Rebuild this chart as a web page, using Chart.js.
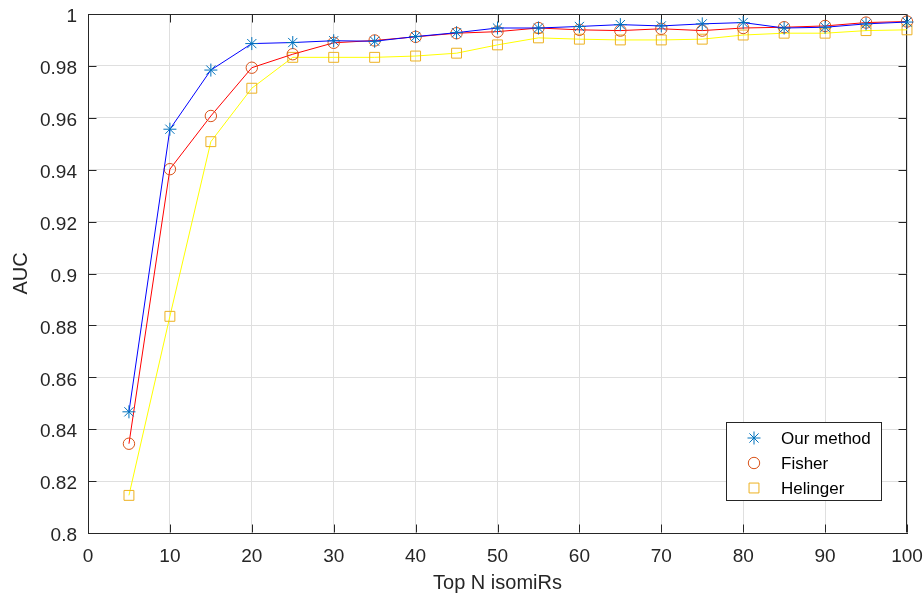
<!DOCTYPE html>
<html>
<head>
<meta charset="utf-8">
<title>AUC vs Top N isomiRs</title>
<script src="https://cdn.jsdelivr.net/npm/chart.js@4/dist/chart.umd.min.js"></script>
<style>
    html, body { margin: 0; padding: 0; background: #ffffff; }
    #wrap { width: 924px; height: 596px; }
</style>
</head>
<body>
<div id="wrap"><canvas id="auc-chart" width="924" height="596"></canvas></div>
<script>
// Data
const topN = [5, 10, 15, 20, 25, 30, 35, 40, 45, 50, 55, 60, 65, 70, 75, 80, 85, 90, 95, 100];
const ourMethod = [0.8467, 0.9556, 0.9784, 0.9886, 0.9890, 0.9897, 0.9895, 0.9913, 0.9928, 0.9946,
    0.9946, 0.9952, 0.9959, 0.9954, 0.9962, 0.9967, 0.9946, 0.9949, 0.9962, 0.9969];
const fisher = [0.8344, 0.9402, 0.9607, 0.9793, 0.9845, 0.9889, 0.9898, 0.9912, 0.9926, 0.9932,
    0.9946, 0.9939, 0.9936, 0.9943, 0.9936, 0.9946, 0.9949, 0.9954, 0.9967, 0.9971];
const helinger = [0.8145, 0.8835, 0.9508, 0.9714, 0.9833, 0.9833, 0.9833, 0.9838, 0.9849, 0.9881,
    0.9908, 0.9903, 0.9900, 0.9900, 0.9903, 0.9919, 0.9926, 0.9926, 0.9936, 0.9939];
const xTicks = { min: 0, max: 100, step: 10 };
const yTicks = { min: 0.8, max: 1, step: 0.02 };

const FONT = '"Liberation Sans", Arial, Helvetica, sans-serif';
const AXIS_COLOR = '#262626';
const GRID_COLOR = '#dfdfdf';
const TICK_LEN = 8;

function toPoints(values) {
    return values.map((v, i) => ({ x: topN[i], y: v }));
}

function makeSeries(label, values, lineColor, markerColor, style, radius) {
    return {
        label: label,
        data: toPoints(values),
        borderColor: lineColor,
        borderWidth: 1,
        backgroundColor: 'rgba(0,0,0,0)',
        pointStyle: style,
        pointRadius: radius,
        pointBorderColor: markerColor,
        pointBackgroundColor: 'rgba(0,0,0,0)',
        pointBorderWidth: 1,
        tension: 0,
        fill: false,
        clip: false
    };
}

// MATLAB style box: top/right edges plus inward tick marks
const axesBox = {
    id: 'axesBox',
    beforeDatasetsDraw(chart) {
        const { ctx, chartArea } = chart;
        const xs = chart.scales.x;
        const ys = chart.scales.y;
        const L = Math.round(chartArea.left) + 0.5;
        const R = Math.round(chartArea.right) - 0.5;
        const T = Math.round(chartArea.top) + 0.5;
        const B = Math.round(chartArea.bottom) - 0.5;
        ctx.save();
        ctx.strokeStyle = AXIS_COLOR;
        ctx.lineWidth = 1;
        ctx.beginPath();
        ctx.moveTo(L, T); ctx.lineTo(R, T); ctx.lineTo(R, B);
        xs.ticks.forEach(t => {
            const px = Math.round(xs.getPixelForValue(t.value)) + 0.5;
            ctx.moveTo(px, B); ctx.lineTo(px, B - TICK_LEN);
            ctx.moveTo(px, T); ctx.lineTo(px, T + TICK_LEN);
        });
        ys.ticks.forEach(t => {
            const py = Math.round(ys.getPixelForValue(t.value)) + 0.5;
            ctx.moveTo(L, py); ctx.lineTo(L + TICK_LEN, py);
            ctx.moveTo(R, py); ctx.lineTo(R - TICK_LEN, py);
        });
        ctx.stroke();
        ctx.restore();
    }
};

// Legend box inside the lower right corner of the plot
const boxLegend = {
    id: 'boxLegend',
    afterDraw(chart) {
        const { ctx, chartArea } = chart;
        const w = 155, h = 78;
        const right = Math.round(chartArea.right) - 26;
        const bottom = Math.round(chartArea.bottom) - 33;
        const left = right - w, top = bottom - h;
        ctx.save();
        ctx.fillStyle = '#ffffff';
        ctx.fillRect(left, top, w, h);
        ctx.strokeStyle = AXIS_COLOR;
        ctx.lineWidth = 1;
        ctx.strokeRect(left + 0.5, top + 0.5, w, h);
        ctx.font = '17px ' + FONT;
        ctx.textBaseline = 'middle';
        ctx.textAlign = 'left';
        chart.data.datasets.forEach((ds, i) => {
            const cy = top + 16 + i * 25;
            ctx.strokeStyle = ds.pointBorderColor;
            ctx.fillStyle = 'rgba(0,0,0,0)';
            ctx.lineWidth = 1;
            Chart.helpers.drawPoint(ctx, { pointStyle: ds.pointStyle, radius: ds.pointRadius, rotation: 0, borderWidth: 1 }, left + 28, cy);
            ctx.fillStyle = '#000000';
            ctx.fillText(ds.label, left + 55, cy + 1);
        });
        ctx.restore();
    }
};

new Chart(document.getElementById('auc-chart'), {
    type: 'line',
    data: {
        datasets: [
            makeSeries('Our method', ourMethod, '#0000ff', '#0072bd', 'star', 6.5),
            makeSeries('Fisher', fisher, '#ff0000', '#d95319', 'circle', 5.7),
            makeSeries('Helinger', helinger, '#ffff00', '#edb120', 'rect', 7)
        ]
    },
    options: {
        responsive: false,
        animation: false,
        events: [],
        layout: { padding: { top: 14, right: 17, left: 0, bottom: 0 } },
        plugins: {
            legend: { display: false },
            tooltip: { enabled: false }
        },
        scales: {
            x: {
                type: 'linear',
                min: xTicks.min,
                max: xTicks.max,
                afterFit: s => {
                    s.height = 63;
                    s.paddingLeft = 0;
                    s.paddingRight = 0;
                },
                ticks: {
                    stepSize: xTicks.step,
                    autoSkip: false,
                    maxRotation: 0,
                    color: AXIS_COLOR,
                    padding: 12,
                    font: { family: FONT, size: 19 }
                },
                grid: { color: GRID_COLOR, drawTicks: false, lineWidth: 1 },
                border: { color: AXIS_COLOR, width: 1 },
                title: {
                    display: true,
                    text: 'Top N isomiRs',
                    color: AXIS_COLOR,
                    padding: { top: 0, bottom: 1 },
                    font: { family: FONT, size: 20 }
                }
            },
            y: {
                type: 'linear',
                min: yTicks.min,
                max: yTicks.max,
                afterFit: s => {
                    s.width = 88;
                    s.paddingTop = 0;
                    s.paddingBottom = 0;
                },
                ticks: {
                    stepSize: yTicks.step,
                    autoSkip: false,
                    color: AXIS_COLOR,
                    padding: 11,
                    labelOffset: 3,
                    font: { family: FONT, size: 19 },
                    callback: v => String(+v.toFixed(2))
                },
                grid: { color: GRID_COLOR, drawTicks: false, lineWidth: 1 },
                border: { color: AXIS_COLOR, width: 1 },
                title: {
                    display: true,
                    text: 'AUC',
                    color: AXIS_COLOR,
                    padding: { top: 9, bottom: 0 },
                    font: { family: FONT, size: 20 }
                }
            }
        }
    },
    plugins: [axesBox, boxLegend]
});
</script>
</body>
</html>
